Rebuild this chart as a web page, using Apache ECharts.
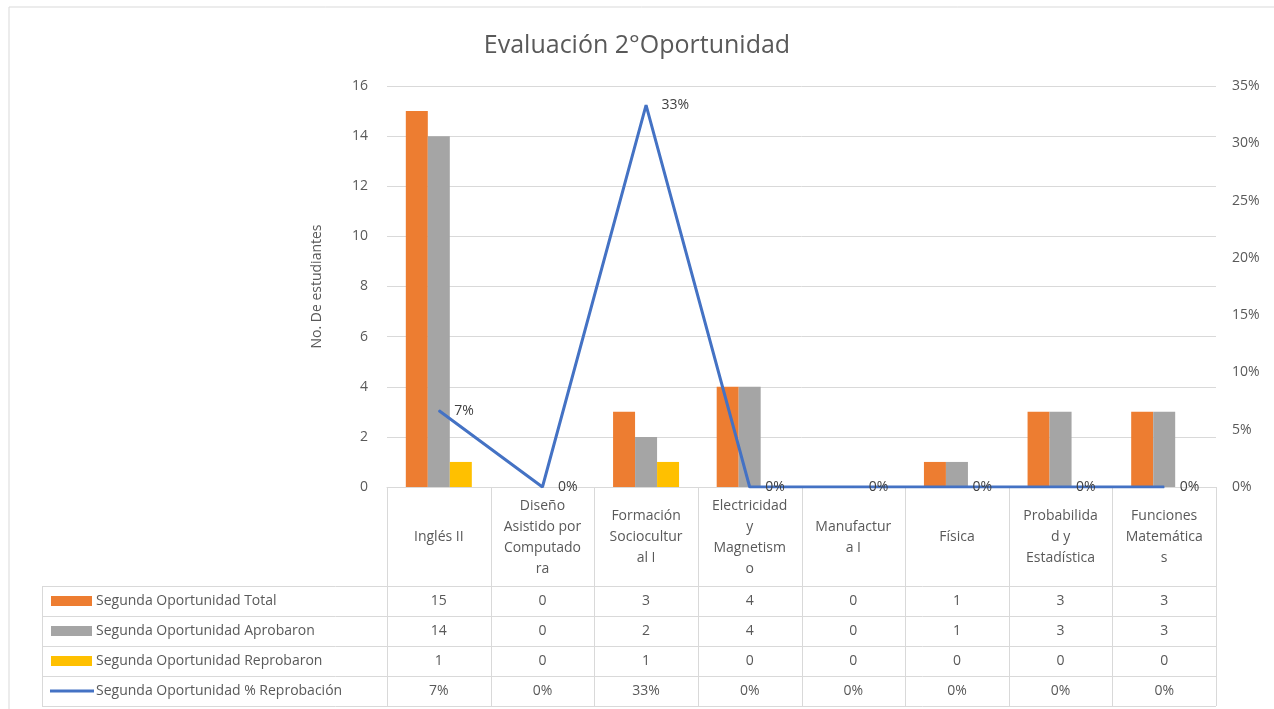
<!DOCTYPE html>
<html>
<head>
<meta charset="utf-8">
<script src="https://cdn.jsdelivr.net/npm/echarts@6/dist/echarts.min.js"></script>
<style>
html,body{margin:0;padding:0;background:#fff;}
#c{width:1274px;height:709px;}
</style>
</head>
<body>
<div id="c"></div>
<script>
// ---- data ----
const categories = ['Inglés II','Diseño Asistido por Computadora','Formación Sociocultural I','Electricidad y Magnetismo','Manufactura I','Física','Probabilidad y Estadística','Funciones Matemáticas'];
const categoryLabels = ['Inglés II','Diseño\nAsistido por\nComputado\nra','Formación\nSociocultur\nal I','Electricidad\ny\nMagnetism\no','Manufactur\na I','Física','Probabilida\nd y\nEstadística','Funciones\nMatemática\ns'];
const seriesNames = ['Segunda Oportunidad Total','Segunda Oportunidad Aprobaron','Segunda Oportunidad Reprobaron','Segunda Oportunidad % Reprobación'];
const total = [15,0,3,4,0,1,3,3];
const aprobaron = [14,0,2,4,0,1,3,3];
const reprobaron = [1,0,1,0,0,0,0,0];
const pctReprobacion = [0.0667,0,0.3333,0,0,0,0,0];
const leftTicks = {min:0,max:16,interval:2};
const rightTicks = {min:0,max:0.35,interval:0.05};
const titleText = 'Evaluación 2°Oportunidad';
const yAxisTitle = 'No. De estudiantes';

// ---- layout ----
const W = 1274, H = 709;
const gL = 387, gR = 1216, gT = 86, gB = 487;
const FONT = 'Open Sans';
const FS = 14;
const TXT = '#595959';
const LINEC = '#D9D9D9';
const colors = ['#ED7D31','#A5A5A5','#FFC000','#4472C4'];
const rowTop = 586, rowH = 30, tableLeft = 42;
const n = categories.length;
const cw = (gR - gL) / n;

const fmtPct = v => Math.round(v*100) + '%';
const rows = [total, aprobaron, reprobaron, pctReprobacion];

const g = [];
// outer chart border (left + top)
g.push({type:'polyline', shape:{points:[[9,709],[9,7],[1274,7]]}, style:{stroke:'#D9D9D9', lineWidth:1, fill:null}, silent:true});
// header row vertical lines
for (let i = 0; i <= n; i++) {
  const x = Math.round(gL + i*cw) + 0.5;
  g.push({type:'line', shape:{x1:x,y1:gB,x2:x,y2:rowTop + 4*rowH}, style:{stroke:LINEC, lineWidth:1}, silent:true});
}
// horizontal table lines
for (let r = 0; r <= 4; r++) {
  const y = rowTop + r*rowH + 0.5;
  g.push({type:'line', shape:{x1:tableLeft,y1:y,x2:gR,y2:y}, style:{stroke:LINEC, lineWidth:1}, silent:true});
}
g.push({type:'line', shape:{x1:tableLeft+0.5,y1:rowTop,x2:tableLeft+0.5,y2:rowTop+4*rowH}, style:{stroke:LINEC, lineWidth:1}, silent:true});
// header labels
categoryLabels.forEach((lab, i) => {
  g.push({type:'text', x: gL + (i+0.5)*cw, y: (gB + rowTop)/2 + 1,
    style:{text:lab, fontFamily:FONT, fontSize:FS, fill:TXT, align:'center', verticalAlign:'middle', lineHeight:21}, silent:true});
});
// row legend keys + names + values
seriesNames.forEach((nm, r) => {
  const cy = rowTop + r*rowH + rowH/2;
  if (r < 3) {
    g.push({type:'rect', shape:{x:51,y:cy-5,width:41,height:10}, style:{fill:colors[r]}, silent:true});
  } else {
    g.push({type:'line', shape:{x1:50,y1:cy,x2:94,y2:cy}, style:{stroke:colors[3], lineWidth:3}, silent:true});
  }
  g.push({type:'text', x:96, y:cy, style:{text:nm, fontFamily:FONT, fontSize:FS, fill:TXT, align:'left', verticalAlign:'middle'}, silent:true});
  rows[r].forEach((v, i) => {
    g.push({type:'text', x: gL + (i+0.5)*cw, y: cy,
      style:{text: r === 3 ? fmtPct(v) : String(v), fontFamily:FONT, fontSize:FS, fill:TXT, align:'center', verticalAlign:'middle'}, silent:true});
  });
});

const chart = echarts.init(document.getElementById('c'), null, {renderer:'canvas', width:W, height:H});
chart.setOption({
  animation:false,
  backgroundColor:'#fff',
  textStyle:{fontFamily:FONT},
  title:{text:titleText, left:'center', top:28, textStyle:{fontFamily:FONT, fontSize:25, fontWeight:'normal', color:TXT}},
  grid:{left:gL, right:W-gR, top:gT, bottom:H-gB, containLabel:false},
  xAxis:{type:'category', data:categories,
    axisLine:{show:true, lineStyle:{color:LINEC}}, axisTick:{show:false}, axisLabel:{show:false}},
  yAxis:[
    {type:'value', min:leftTicks.min, max:leftTicks.max, interval:leftTicks.interval,
     name:yAxisTitle, nameLocation:'middle', nameGap:63, nameRotate:90,
     nameTextStyle:{fontFamily:FONT, fontSize:FS, color:TXT},
     axisLine:{show:false}, axisTick:{show:false},
     axisLabel:{fontFamily:FONT, fontSize:FS, color:TXT, margin:19},
     splitLine:{lineStyle:{color:LINEC}}},
    {type:'value', min:rightTicks.min, max:rightTicks.max, interval:rightTicks.interval,
     axisLine:{show:false}, axisTick:{show:false},
     axisLabel:{fontFamily:FONT, fontSize:FS, color:TXT, margin:16, formatter:v=>fmtPct(v)},
     splitLine:{show:false}}
  ],
  series:[
    {name:seriesNames[0], type:'bar', data:total, barWidth:22, barGap:'0%', itemStyle:{color:colors[0]}},
    {name:seriesNames[1], type:'bar', data:aprobaron, barWidth:22, barGap:'0%', itemStyle:{color:colors[1]}},
    {name:seriesNames[2], type:'bar', data:reprobaron, barWidth:22, barGap:'0%', itemStyle:{color:colors[2]}},
    {name:seriesNames[3], type:'line', yAxisIndex:1, data:pctReprobacion, symbol:'circle', symbolSize:1, showSymbol:true,
     lineStyle:{color:colors[3], width:3}, itemStyle:{color:colors[3]}, z:5,
     label:{show:true, position:'right', distance:15, formatter:p=>fmtPct(p.value), fontFamily:FONT, fontSize:FS, color:'#404040'}}
  ],
  graphic:g
});
</script>
</body>
</html>
